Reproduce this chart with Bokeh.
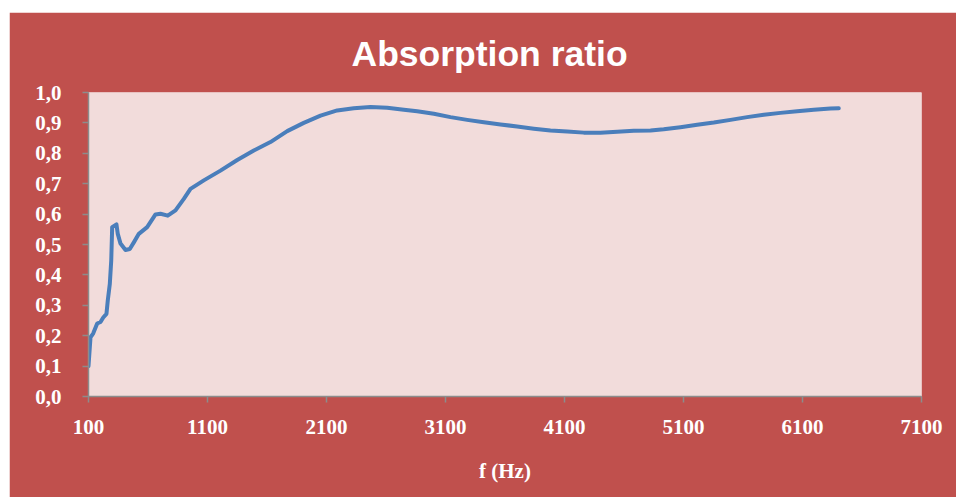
from bokeh.plotting import figure
from bokeh.models import Range1d, FixedTicker, CustomJSTickFormatter
from bokeh.embed import file_html
from bokeh.resources import INLINE

# ---- data ----
freq_hz = [100, 117, 139, 173, 201, 224, 251, 262, 279, 291,
           299, 335, 346, 369, 411, 447, 481, 523, 593, 663,
           705, 766, 831, 901, 957, 1069, 1209, 1350, 1489, 1629,
           1770, 1909, 2050, 2190, 2329, 2470, 2610, 2750, 2862, 3002,
           3142, 3282, 3422, 3562, 3702, 3842, 3982, 4123, 4262, 4402,
           4543, 4682, 4823, 4934, 5074, 5215, 5355, 5495, 5635, 5775,
           5915, 6055, 6195, 6335, 6405]
absorption = [0.100, 0.195, 0.207, 0.240, 0.245, 0.260, 0.272, 0.316, 0.370, 0.447,
              0.557, 0.566, 0.535, 0.503, 0.482, 0.485, 0.507, 0.535, 0.557, 0.599,
              0.601, 0.595, 0.612, 0.650, 0.683, 0.711, 0.743, 0.778, 0.809, 0.837,
              0.873, 0.900, 0.924, 0.941, 0.948, 0.952, 0.950, 0.943, 0.938, 0.930,
              0.919, 0.910, 0.902, 0.895, 0.888, 0.881, 0.875, 0.872, 0.868, 0.868,
              0.871, 0.874, 0.875, 0.879, 0.886, 0.894, 0.901, 0.910, 0.919, 0.927,
              0.933, 0.938, 0.943, 0.947, 0.948]
x_ticks = [100, 1100, 2100, 3100, 4100, 5100, 6100, 7100]
y_ticks = [0.0, 0.1, 0.2, 0.3, 0.4, 0.5, 0.6, 0.7, 0.8, 0.9, 1.0]
title_text = "Absorption ratio"

RED = "#C0504D"
PLOT_BG = "#F2DCDB"
LINE = "#4A7EBB"
AXIS = "#8C8C8C"

p = figure(width=947, height=485, margin=(12, 0, 0, 9),
           output_backend="svg", toolbar_location=None,
           x_range=Range1d(100, 7100), y_range=Range1d(0, 1),
           min_border_left=79, min_border_right=35, min_border_top=80, min_border_bottom=101,
           title=title_text)

p.background_fill_color = PLOT_BG
p.border_fill_color = RED
p.outline_line_color = None
p.grid.visible = False

p.title.align = "left"
p.title.offset = 263
p.title.text_color = "white"
p.title.text_font = "Liberation Sans"
p.title.text_font_style = "bold"
p.title.text_font_size = "35.5px"
p.title.text_line_height = 1.0
p.title.standoff = 38

p.line(freq_hz, absorption, line_color=LINE, line_width=4, line_join="round", line_cap="round")

xa = p.xaxis[0]
xa.ticker = FixedTicker(ticks=x_ticks)
xa.axis_label = "f (Hz)"
ya = p.yaxis[0]
ya.ticker = FixedTicker(ticks=y_ticks)
ya.formatter = CustomJSTickFormatter(code="return tick.toFixed(1).replace('.', ',');")

for ax in (xa, ya):
    ax.axis_line_color = AXIS
    ax.axis_line_width = 1.5
    ax.major_tick_line_color = AXIS
    ax.major_tick_line_width = 1.5
    ax.major_tick_out = 6
    ax.major_tick_in = 0
    ax.minor_tick_line_color = None
    ax.major_label_text_color = "white"
    ax.major_label_text_font = "Liberation Serif"
    ax.major_label_text_font_style = "bold"
    ax.axis_label_text_color = "white"
    ax.axis_label_text_font = "Liberation Serif"
    ax.axis_label_text_font_style = "bold"

xa.major_label_text_font_size = "21px"
xa.major_label_standoff = 17
xa.axis_label_text_font_size = "21px"
xa.axis_label_standoff = 22
ya.major_label_text_font_size = "21px"
ya.major_label_standoff = 21

open("out.html", "w").write(file_html(p, INLINE))
